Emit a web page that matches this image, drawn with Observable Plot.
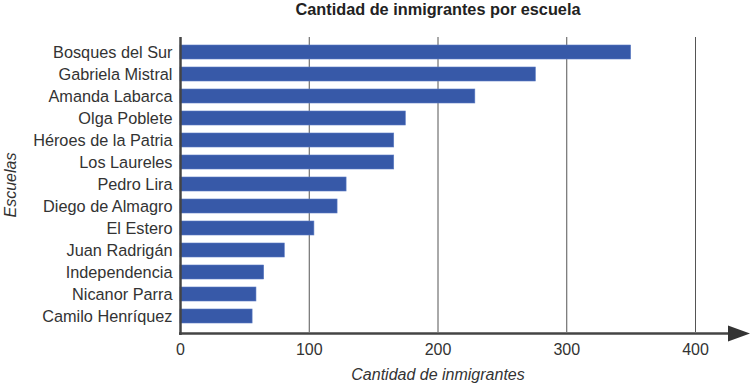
<!DOCTYPE html>
<html>
<head>
<meta charset="utf-8">
<script src="https://cdn.jsdelivr.net/npm/d3@7"></script>
<script src="https://cdn.jsdelivr.net/npm/@observablehq/plot@0.6"></script>
<style>
  html, body { margin: 0; padding: 0; background: #fff; }
  svg { display: block; }
</style>
</head>
<body>
<div id="chart"></div>
<script>
const schools = ["Bosques del Sur","Gabriela Mistral","Amanda Labarca","Olga Poblete","Héroes de la Patria","Los Laureles","Pedro Lira","Diego de Almagro","El Estero","Juan Radrigán","Independencia","Nicanor Parra","Camilo Henríquez"];
const counts = [350, 276, 229, 175, 166, 166, 129, 122, 104, 81, 65, 59, 56];
const xTicks = [0, 100, 200, 300, 400];
const gridTicks = [100, 200, 300, 400];
const title = "Cantidad de inmigrantes por escuela";
const xLabel = "Cantidad de inmigrantes";
const yLabel = "Escuelas";

const data = schools.map((s, i) => ({school: s, count: counts[i]}));

const font = "'Liberation Sans', Arial, sans-serif";

function axisArrow(index, scales, values, dims, context) {
  const g = d3.create("svg:g");
  const x0 = scales.x(0);
  const y = dims.height - dims.marginBottom + 1.5;
  const xEnd = dims.width - 1;
  g.append("line").attr("x1", x0 - 1).attr("x2", xEnd - 20).attr("y1", y).attr("y2", y)
    .attr("stroke", "#444").attr("stroke-width", 2.5);
  g.append("path").attr("d", `M${xEnd - 22},${y - 8}L${xEnd},${y}L${xEnd - 22},${y + 8}Z`).attr("fill", "#333");
  return g.node();
}

const chart = Plot.plot({
  width: 751,
  height: 388,
  marginTop: 37,
  marginBottom: 56,
  marginLeft: 180,
  marginRight: 56,
  style: {fontFamily: font, fontSize: "16px", color: "#333", background: "#fff"},
  x: {domain: [0, 400]},
  y: {domain: schools, paddingInner: 0.36, paddingOuter: 0.235},
  marks: [
    Plot.ruleX(gridTicks, {stroke: "#555", strokeWidth: 1}),
    Plot.barX(data, {y: "school", x: "count", fill: "#3759a8", stroke: "#5a7bc4", strokeWidth: 0.6}),
    Plot.ruleX([0], {stroke: "#444", strokeWidth: 2.5, insetBottom: -3}),
    Plot.axisY({tickSize: 0, tickPadding: 8, fontSize: 16.3, label: null, fontFamily: font}),
    Plot.axisX({ticks: xTicks, tickSize: 0, tickPadding: 11, fontSize: 16, label: null, fontFamily: font}),
    axisArrow,
    Plot.text([title], {frameAnchor: "top", lineAnchor: "middle", dy: -28, fontWeight: "bold", fontSize: 16.3, fill: "#222", fontFamily: font}),
    Plot.text([xLabel], {frameAnchor: "bottom", lineAnchor: "middle", dy: 42, fontStyle: "italic", fontSize: 16, fill: "#333", fontFamily: font}),
    Plot.text([yLabel], {frameAnchor: "left", textAnchor: "middle", lineAnchor: "middle", dx: -170, rotate: -90, fontStyle: "italic", fontSize: 16, fill: "#333", fontFamily: font})
  ]
});
document.getElementById("chart").appendChild(chart);
</script>
</body>
</html>
